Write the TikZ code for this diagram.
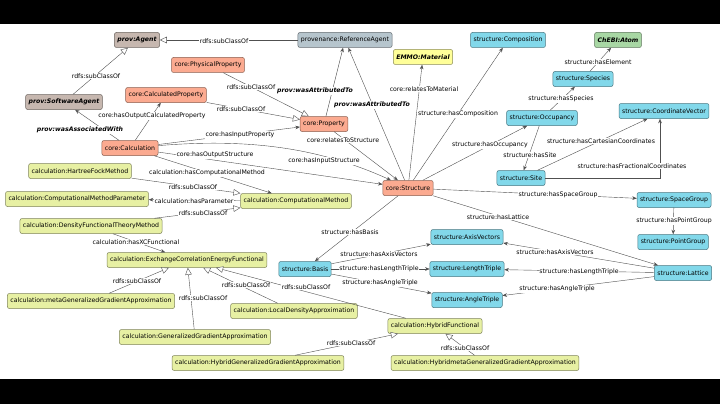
\documentclass[tikz,border=0pt]{standalone}
\usepackage{fontspec}
\setmainfont{DejaVu Sans}
\usepackage{tikz}
\usetikzlibrary{arrows.meta}

\definecolor{provc}{HTML}{C6B7AF}
\definecolor{refc}{HTML}{B6C5CD}
\definecolor{corec}{HTML}{FBAA90}
\definecolor{strc}{HTML}{82D8EA}
\definecolor{calcc}{HTML}{E7F0A3}
\definecolor{emmoc}{HTML}{FFFF99}
\definecolor{chebic}{HTML}{A8D7A4}
\definecolor{edgec}{HTML}{505050}

\tikzset{
  cls/.style={draw=#1!55!black, fill=#1, rounded corners=2pt, inner xsep=3pt,
    inner ysep=1pt, minimum height=15pt, line width=0.5pt,
    font=\fontsize{6.2}{7.4}\selectfont},
  lbl/.style={fill=white, inner sep=0.6pt, font=\fontsize{6.2}{7.4}\selectfont},
  prop/.style={draw=edgec, line width=0.4pt, -{Stealth[length=4.5pt,width=3.6pt]}},
  sub/.style={draw=edgec, line width=0.4pt, -{Triangle[open,length=7pt,width=6.5pt,fill=white]}},
}

\begin{document}
\begin{tikzpicture}[x=1pt,y=-1pt]
    \useasboundingbox (0,0) rectangle (720,404);
    \fill[white] (0,0) rectangle (720,404);
    \fill[black] (0,0) rectangle (720,24);
    \fill[black] (0,379) rectangle (720,404);

    % classes
    \node[cls=provc] (agent) at (137,40) {\bfseries\itshape prov:Agent};
    \node[cls=refc] (refagent) at (345,40) {provenance:ReferenceAgent};
    \node[cls=emmoc] (material) at (423,57) {\bfseries\itshape EMMO:Material};
    \node[cls=strc] (composition) at (508,40) {structure:Composition};
    \node[cls=chebic] (atom) at (618,40) {\bfseries\itshape ChEBI:Atom};
    \node[cls=corec] (physprop) at (208,65) {core:PhysicalProperty};
    \node[cls=strc] (species) at (583,79) {structure:Species};
    \node[cls=corec] (calcprop) at (166,95) {core:CalculatedProperty};
    \node[cls=provc] (swagent) at (64,102) {\bfseries\itshape prov:SoftwareAgent};
    \node[cls=strc] (coordvec) at (664,111) {structure:CoordinateVector};
    \node[cls=strc] (occupancy) at (542,118) {structure:Occupancy};
    \node[cls=corec] (property) at (324,124) {core:Property};
    \node[cls=corec] (calculation) at (130,148) {core:Calculation};
    \node[cls=calcc] (hartree) at (80,171) {calculation:HartreeFockMethod};
    \node[cls=strc] (site) at (521,178) {structure:Site};
    \node[cls=corec] (structure) at (408,188) {core:Structure};
    \node[cls=calcc] (param) at (77,199) {calculation:ComputationalMethodParameter};
    \node[cls=calcc] (method) at (296,201) {calculation:ComputationalMethod};
    \node[cls=strc] (spacegroup) at (674,200) {structure:SpaceGroup};
    \node[cls=calcc] (dft) at (91,226) {calculation:DensityFunctionalTheoryMethod};
    \node[cls=strc] (axis) at (467,237) {structure:AxisVectors};
    \node[cls=strc] (pointgroup) at (673,242) {structure:PointGroup};
    \node[cls=calcc] (xc) at (187,260) {calculation:ExchangeCorrelationEnergyFunctional};
    \node[cls=strc] (basis) at (305,269) {structure:Basis};
    \node[cls=strc] (length) at (467,269) {structure:LengthTriple};
    \node[cls=strc] (lattice) at (683,273) {structure:Lattice};
    \node[cls=strc] (angle) at (467,300) {structure:AngleTriple};
    \node[cls=calcc] (metagga) at (91,301) {calculation:metaGeneralizedGradientApproximation};
    \node[cls=calcc] (lda) at (294,311) {calculation:LocalDensityApproximation};
    \node[cls=calcc] (hybrid) at (435,326) {calculation:HybridFunctional};
    \node[cls=calcc] (gga) at (195,337) {calculation:GeneralizedGradientApproximation};
    \node[cls=calcc] (hybridgga) at (258,363) {calculation:HybridGeneralizedGradientApproximation};
    \node[cls=calcc] (hybridmeta) at (485,363) {calculation:HybridmetaGeneralizedGradientApproximation};

    % subclass links
    \draw[sub] (refagent) -- (agent);
    \draw[sub] (swagent) -- (agent);
    \draw[sub] (physprop) -- (property);
    \draw[sub] (calcprop) -- (property);
    \draw[sub] (hartree) -- (method);
    \draw[sub] (dft) -- (method);
    \draw[sub] (metagga) -- (xc);
    \draw[sub] (gga) -- (xc);
    \draw[sub] (lda) -- (xc);
    \draw[sub] (hybrid) -- (xc);
    \draw[sub] (hybridgga) -- (hybrid);
    \draw[sub] (hybridmeta) -- (hybrid);

    % object properties
    \draw[prop] (property) -- (refagent);
    \draw[prop] (structure) -- (refagent);
    \draw[prop] (structure) -- (material);
    \draw[prop] (structure) -- (composition);
    \draw[prop] (species) -- (atom);
    \draw[prop] (occupancy) -- (species);
    \draw[prop] (structure) -- (occupancy);
    \draw[prop] (occupancy) -- (site);
    \draw[prop] (site) -- (coordvec);
    \coordinate (fc) at (660,178);
    \draw[prop] (site) -- (fc) -- (coordvec.south -| fc);
    \draw[prop] (structure) -- (spacegroup);
    \draw[prop] (spacegroup) -- (pointgroup);
    \draw[prop] (structure) -- (lattice);
    \draw[prop] (lattice) -- (axis);
    \draw[prop] (lattice) -- (length);
    \draw[prop] (lattice) -- (angle);
    \draw[prop] (basis) -- (axis);
    \draw[prop] (basis) -- (length);
    \draw[prop] (basis) -- (angle);
    \draw[prop] (structure) -- (basis);
    \draw[prop] (property) -- (structure);
    \draw[prop] (calculation) -- (calcprop);
    \draw[prop] (calculation) -- (swagent);
    \draw[prop] (calculation) -- (property);
    \draw[prop] (calculation) -- (structure);
    \draw[prop] (calculation) .. controls (250,138) and (320,148) .. (structure);
    \draw[prop] (calculation) -- (method);
    \draw[prop] (method) -- (param);
    \draw[prop] (dft) -- (xc);

    % edge labels
    \node[lbl] (l1) at (224,41) {rdfs:subClassOf};
    \node[lbl] (l2) at (96,76) {rdfs:subClassOf};
    \node[lbl] (l3) at (251,87) {rdfs:subClassOf};
    \node[lbl] (l4) at (241,109) {rdfs:subClassOf};
    \node[lbl] (l5) at (315,91) {\bfseries\itshape prov:wasAttributedTo};
    \node[lbl] (l6) at (372,105) {\bfseries\itshape prov:wasAttributedTo};
    \node[lbl] (l7) at (424,89) {core:relatesToMaterial};
    \node[lbl] (l8) at (458,114) {structure:hasComposition};
    \node[lbl] (l9) at (598,62) {structure:hasElement};
    \node[lbl] (l10) at (561,99) {structure:hasSpecies};
    \node[lbl] (l11) at (490,145) {structure:hasOccupancy};
    \node[lbl] (l12) at (530,155) {structure:hasSite};
    \node[lbl] (l13) at (601,141) {structure:hasCartesianCoordinates};
    \node[lbl] (l14) at (632,166) {structure:hasFractionalCoordinates};
    \node[lbl] (l15) at (558,195) {structure:hasSpaceGroup};
    \node[lbl] (l16) at (674,221) {structure:hasPointGroup};
    \node[lbl] (l17) at (498,217) {structure:hasLattice};
    \node[lbl] (l18) at (555,252) {structure:hasAxisVectors};
    \node[lbl] (l19) at (579,272) {structure:hasLengthTriple};
    \node[lbl] (l20) at (557,289) {structure:hasAngleTriple};
    \node[lbl] (l21) at (379,254) {structure:hasAxisVectors};
    \node[lbl] (l22) at (379,269) {structure:hasLengthTriple};
    \node[lbl] (l23) at (380,283) {structure:hasAngleTriple};
    \node[lbl] (l24) at (350,232) {structure:hasBasis};
    \node[lbl] (l25) at (343,140) {core:relatesToStructure};
    \node[lbl] (l26) at (152,116) {core:hasOutputCalculatedProperty};
    \node[lbl] (l27) at (80,130) {\bfseries\itshape prov:wasAssociatedWith};
    \node[lbl] (l28) at (240,135) {core:hasInputProperty};
    \node[lbl] (l29) at (215,155) {core:hasOutputStructure};
    \node[lbl] (l30) at (324,161) {core:hasInputStructure};
    \node[lbl] (l31) at (207,173) {calculation:hasComputationalMethod};
    \node[lbl] (l32) at (193,187) {rdfs:subClassOf};
    \node[lbl] (l33) at (194,201) {calculation:hasParameter};
    \node[lbl] (l34) at (203,213) {rdfs:subClassOf};
    \node[lbl] (l35) at (136,242) {calculation:hasXCFunctional};
    \node[lbl] (l36) at (137,281) {rdfs:subClassOf};
    \node[lbl] (l37) at (203,298) {rdfs:subClassOf};
    \node[lbl] (l38) at (246,285) {rdfs:subClassOf};
    \node[lbl] (l39) at (306,287) {rdfs:subClassOf};
    \node[lbl] (l40) at (351,343) {rdfs:subClassOf};
    \node[lbl] (l41) at (465,348) {rdfs:subClassOf};
\end{tikzpicture}
\end{document}
